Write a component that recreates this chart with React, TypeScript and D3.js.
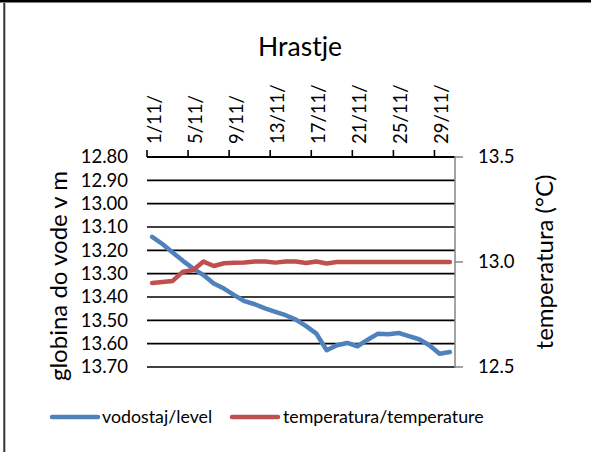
import * as d3 from 'd3'

const days = d3.range(1, 31)
const tickDays = [1, 5, 9, 13, 17, 21, 25, 29]
const tickLabels = tickDays.map(d => `${d}/11/`)

// water level (m below surface), left axis reversed
const level = [
  13.142, 13.173, 13.209, 13.245, 13.278, 13.306, 13.342, 13.364, 13.392, 13.418,
  13.431, 13.449, 13.464, 13.478, 13.497, 13.525, 13.557, 13.628, 13.607, 13.597,
  13.611, 13.583, 13.557, 13.56, 13.554, 13.568, 13.581, 13.607, 13.643, 13.636,
]
// temperature (°C), right axis
const temperature = [
  12.9, 12.905, 12.91, 12.954, 12.962, 13.002, 12.981, 12.994, 12.997, 12.998,
  13.002, 13.002, 12.997, 13.002, 13.002, 12.995, 13.002, 12.993, 13.0, 13.0,
  13.0, 13.0, 13.0, 13.0, 13.0, 13.0, 13.0, 13.0, 13.0, 13.0,
]
const levelTicks = d3.range(12.8, 13.71, 0.1)
const tempTicks = [12.5, 13.0, 13.5]

const W = 591
const H = 452
const plot = { left: 147, right: 455, top: 157, bottom: 367 }
const FONT = 'Lato, "Noto Sans", sans-serif'
const BLUE = '#4F81BD'
const RED = '#C0504D'

export default function App() {
  const x = d3.scaleBand<number>().domain(days).range([plot.left, plot.right]).paddingInner(0).paddingOuter(0)
  const yL = d3.scaleLinear().domain([12.8, 13.7]).range([plot.top, plot.bottom])
  const yR = d3.scaleLinear().domain([12.5, 13.5]).range([plot.bottom, plot.top])
  const cx = (d: number) => (x(d) as number) + x.bandwidth() / 2

  const levelLine = d3.line<number>().x((_, i) => cx(days[i])).y(v => yL(v))
  const tempLine = d3.line<number>().x((_, i) => cx(days[i])).y(v => yR(v))

  return (
    <svg width={W} height={H} style={{ position: 'absolute', left: 0, top: 0, fontFamily: FONT }}>
      <rect x={0} y={0} width={W} height={H} fill="#fff" />
      <line x1={0} x2={W} y1={1.2} y2={1.2} stroke="#000" strokeWidth={2.5} />
      <line x1={4.3} x2={4.3} y1={3} y2={H} stroke="#333" strokeWidth={2} />

      <text x={300} y={56} textAnchor="middle" fontSize={26.5} fill="#000">Hrastje</text>

      {/* gridlines */}
      {levelTicks.map((t, i) => (
        <line key={i} x1={plot.left} x2={plot.right} y1={yL(t)} y2={yL(t)} stroke="#000" strokeWidth={i === 0 ? 2 : 1.6} />
      ))}

      {/* left axis labels */}
      {levelTicks.map((t, i) => (
        <text key={i} x={128} y={yL(t)} dy="0.35em" textAnchor="end" fontSize={18.5} fill="#000">{t.toFixed(2)}</text>
      ))}

      {/* top category axis ticks + labels */}
      {tickDays.map((d, i) => (
        <g key={d}>
          <line x1={x(d) as number} x2={x(d) as number} y1={plot.top} y2={plot.top - 7} stroke="#000" strokeWidth={1.6} />
          <text transform={`translate(${cx(d) + 2},144) rotate(-90)`} dy="0.35em" textAnchor="start" fontSize={18.5} fill="#000">{tickLabels[i]}</text>
        </g>
      ))}

      {/* right axis */}
      <line x1={plot.right} x2={plot.right} y1={plot.top - 1} y2={plot.bottom + 1} stroke="#868686" strokeWidth={1.5} />
      {tempTicks.map(t => (
        <g key={t}>
          <line x1={plot.right} x2={plot.right + 8} y1={yR(t)} y2={yR(t)} stroke="#868686" strokeWidth={1.5} />
          <text x={478} y={yR(t)} dy="0.35em" textAnchor="start" fontSize={18.5} fill="#000">{t.toFixed(1)}</text>
        </g>
      ))}

      {/* axis titles */}
      <text transform="translate(67,276) rotate(-90)" textAnchor="middle" fontSize={24} fill="#000">globina do vode v m</text>
      <text transform="translate(553,262) rotate(-90)" textAnchor="middle" fontSize={24} fill="#000">temperatura (°C)</text>

      {/* series */}
      <path d={levelLine(level) ?? ''} fill="none" stroke={BLUE} strokeWidth={4.5} strokeLinejoin="round" strokeLinecap="round" />
      <path d={tempLine(temperature) ?? ''} fill="none" stroke={RED} strokeWidth={4.5} strokeLinejoin="round" strokeLinecap="round" />

      {/* legend */}
      <line x1={52} x2={98} y1={417} y2={417} stroke={BLUE} strokeWidth={4.5} strokeLinecap="round" />
      <text x={102} y={417} dy="0.35em" fontSize={17.8} fill="#000">vodostaj/level</text>
      <line x1={232} x2={278} y1={417} y2={417} stroke={RED} strokeWidth={4.5} strokeLinecap="round" />
      <text x={283} y={417} dy="0.35em" fontSize={17.8} fill="#000">temperatura/temperature</text>
    </svg>
  )
}
